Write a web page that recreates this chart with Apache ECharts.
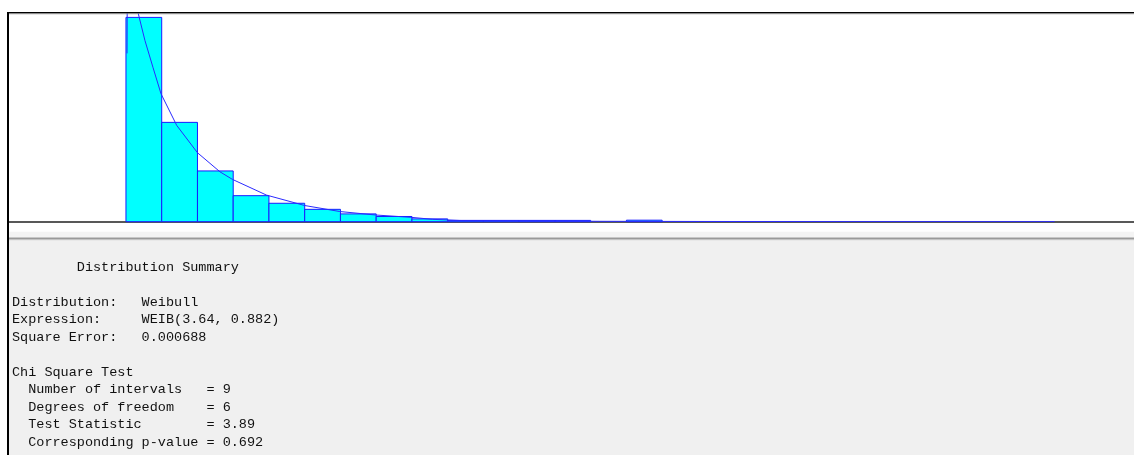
<!DOCTYPE html>
<html>
<head>
<meta charset="utf-8">
<script src="https://cdn.jsdelivr.net/npm/echarts@6/dist/echarts.min.js"></script>
<style>
  html, body { margin: 0; padding: 0; background: #ffffff; }
  #chart { width: 1134px; height: 455px; }
</style>
</head>
<body>
<div id="chart"></div>
<script>
// histogram bins (unit width) and relative frequencies
const binStart = [0, 1, 2, 3, 4, 5, 6, 7, 8, 9, 10, 11, 12, 13, 14];
const binFreq = [0.471, 0.229, 0.117, 0.060, 0.0425, 0.0285, 0.018, 0.012, 0.0065, 0.003, 0.003, 0.003, 0.003, 0, 0.0035];

// fitted Weibull density, sampled from the drawn curve
const curveX = [0.03, 0.04, 0.33, 0.344, 0.53, 0.755, 0.98, 1.42, 2.0, 2.63, 2.98, 3.93, 5.0, 5.98, 6.99, 7.97, 8.58, 9.34, 11.3, 13.25, 16.05, 20.25, 25.98];
const curveY = [0.388, 0.60, 0.49, 0.480, 0.418, 0.356, 0.295, 0.222, 0.159, 0.115, 0.0975, 0.0614, 0.0373, 0.0235, 0.0154, 0.0101, 0.0055, 0.0028, 0.0016, 0.0009, 0.0005, 0.0002, 0.0001];

const summaryLines = [
  '        Distribution Summary',
  '',
  'Distribution:   Weibull',
  'Expression:     WEIB(3.64, 0.882)',
  'Square Error:   0.000688',
  '',
  'Chi Square Test',
  '  Number of intervals   = 9',
  '  Degrees of freedom    = 6',
  '  Test Statistic        = 3.89',
  '  Corresponding p-value = 0.692',
];

const chart = echarts.init(document.getElementById('chart'));

function renderBin(params, api) {
  const freq = api.value(2);
  if (!(freq > 0)) return null;
  const topLeft = api.coord([api.value(0), freq]);
  const bottomRight = api.coord([api.value(1), 0]);
  return {
    type: 'rect',
    shape: {
      x: topLeft[0],
      y: topLeft[1],
      width: bottomRight[0] - topLeft[0],
      height: bottomRight[1] - topLeft[1],
    },
    style: { fill: '#00ffff', stroke: '#1a1aff', lineWidth: 1 },
  };
}

chart.setOption({
  animation: false,
  backgroundColor: '#ffffff',
  grid: { left: 8, right: 0, top: 13.5, bottom: 233.3, show: false },
  xAxis: {
    type: 'value',
    min: -3.3,
    max: 28.2,
    axisLine: { show: true, onZero: true, lineStyle: { color: '#222222', width: 1.5 } },
    axisTick: { show: false },
    axisLabel: { show: false },
    splitLine: { show: false },
  },
  yAxis: {
    type: 'value',
    min: 0,
    max: 0.48,
    axisLine: { show: false },
    axisTick: { show: false },
    axisLabel: { show: false },
    splitLine: { show: false },
  },
  series: [
    {
      type: 'custom',
      renderItem: renderBin,
      data: binStart.map((start, i) => [start, start + 1, binFreq[i]]),
      z: 3,
    },
    {
      type: 'line',
      data: curveX.map((x, i) => [x, curveY[i]]),
      showSymbol: false,
      clip: true,
      lineStyle: { color: '#2a2aff', width: 1 },
      z: 4,
    },
  ],
  graphic: [
    // area under the plot and the summary panel
    { type: 'rect', z: 1, shape: { x: 9, y: 231.7, width: 1125, height: 6 }, style: { fill: '#f4f4f4' } },
    { type: 'rect', z: 1, shape: { x: 9, y: 237.5, width: 1125, height: 1.5 }, style: { fill: '#9a9a9a' } },
    { type: 'rect', z: 1, shape: { x: 9, y: 239, width: 1125, height: 1.5 }, style: { fill: '#c4c4c4' } },
    { type: 'rect', z: 1, shape: { x: 9, y: 240.5, width: 1125, height: 215 }, style: { fill: '#f0f0f0' } },
    // window frame
    { type: 'rect', z: 10, shape: { x: 7, y: 12, width: 1127, height: 1.5 }, style: { fill: '#000000' } },
    { type: 'rect', z: 10, shape: { x: 9, y: 13.5, width: 1125, height: 0.8 }, style: { fill: '#9a9a9a' } },
    { type: 'rect', z: 10, shape: { x: 7, y: 12, width: 2, height: 443 }, style: { fill: '#000000' } },
    {
      type: 'text',
      z: 10,
      x: 12,
      y: 258.8,
      style: {
        text: summaryLines.join('\n'),
        fontFamily: '"Liberation Mono", "Courier New", monospace',
        fontSize: 13.5,
        lineHeight: 17.45,
        fill: '#111111',
        verticalAlign: 'top',
      },
    },
  ],
});
</script>
</body>
</html>
